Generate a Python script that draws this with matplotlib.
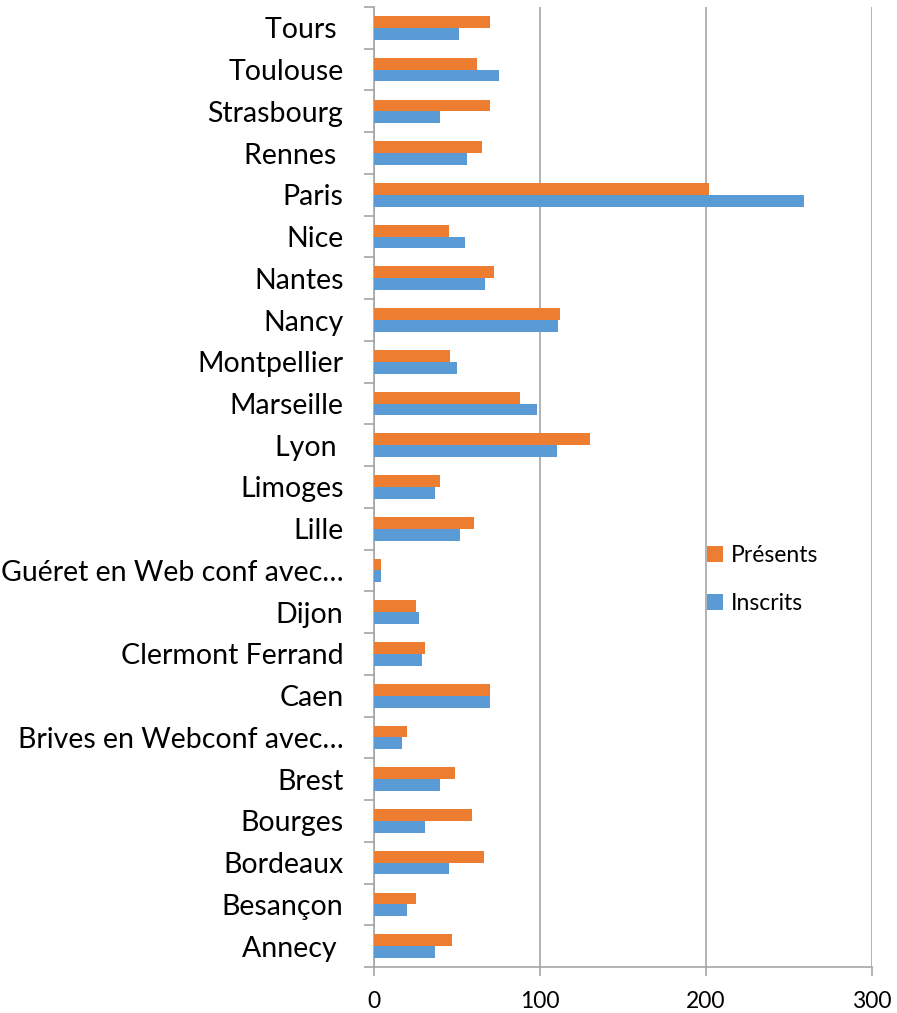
import matplotlib
matplotlib.use("Agg")
import matplotlib.pyplot as plt
import numpy as np

# categories from bottom to top (as in the Excel chart)
villes = ["Annecy ", "Besançon", "Bordeaux", "Bourges", "Brest",
          "Brives en Webconf avec…", "Caen", "Clermont Ferrand", "Dijon",
          "Guéret en Web conf avec…", "Lille", "Limoges", "Lyon ",
          "Marseille", "Montpellier", "Nancy", "Nantes", "Nice", "Paris",
          "Rennes ", "Strasbourg", "Toulouse", "Tours "]
inscrits = [37, 20, 45, 31, 40, 17, 70, 29, 27, 4, 52, 37, 110,
            98, 50, 111, 67, 55, 259, 56, 40, 75, 51]
presents = [47, 25, 66, 59, 49, 20, 70, 31, 25, 4, 60, 40, 130,
            88, 46, 112, 72, 45, 202, 65, 70, 62, 70]

plt.rcParams['font.family'] = ['Lato', 'DejaVu Sans']

fig = plt.figure(figsize=(8.97, 10.13), dpi=100)
ax = fig.add_axes([0.417, 0.0454, 0.555, 0.9477])

y = np.arange(len(villes))
h = 0.283
gris = "#a6a6a6"

b1 = ax.barh(y - h / 2, inscrits, height=h, color="#5B9BD5", label="Inscrits", zorder=3)
b2 = ax.barh(y + h / 2, presents, height=h, color="#ED7D31", label="Présents", zorder=3)

ax.set_xlim(0, 300)
ax.set_ylim(-0.5, len(villes) - 0.5)
ax.set_xticks([0, 100, 200, 300])
ax.tick_params(axis='x', labelsize=16.5, length=6.5, color=gris, width=1.2, pad=11)

# ticks at the category boundaries, labels in the middle
ax.set_yticks(np.arange(-0.5, len(villes), 1.0))
ax.set_yticklabels([])
ax.set_yticks(y, minor=True)
ax.set_yticklabels(villes, minor=True, fontsize=20.5)
ax.tick_params(axis='y', which='major', length=7.5, color=gris, width=1.2)
ax.tick_params(axis='y', which='minor', length=0, pad=22)

ax.grid(axis='x', color=gris, linewidth=1.2, zorder=0)
for s in ['top', 'right']:
    ax.spines[s].set_visible(False)
for s in ['left', 'bottom']:
    ax.spines[s].set_color(gris)
    ax.spines[s].set_linewidth(1.2)

fig.legend([b2, b1], ["Présents", "Inscrits"], loc='center left',
           bbox_to_anchor=(0.788, 0.428), frameon=False, fontsize=16.5,
           handlelength=0.7, handleheight=0.7, handletextpad=0.36,
           labelspacing=1.17, borderpad=0, borderaxespad=0)

fig.savefig("out.png", dpi=100)
